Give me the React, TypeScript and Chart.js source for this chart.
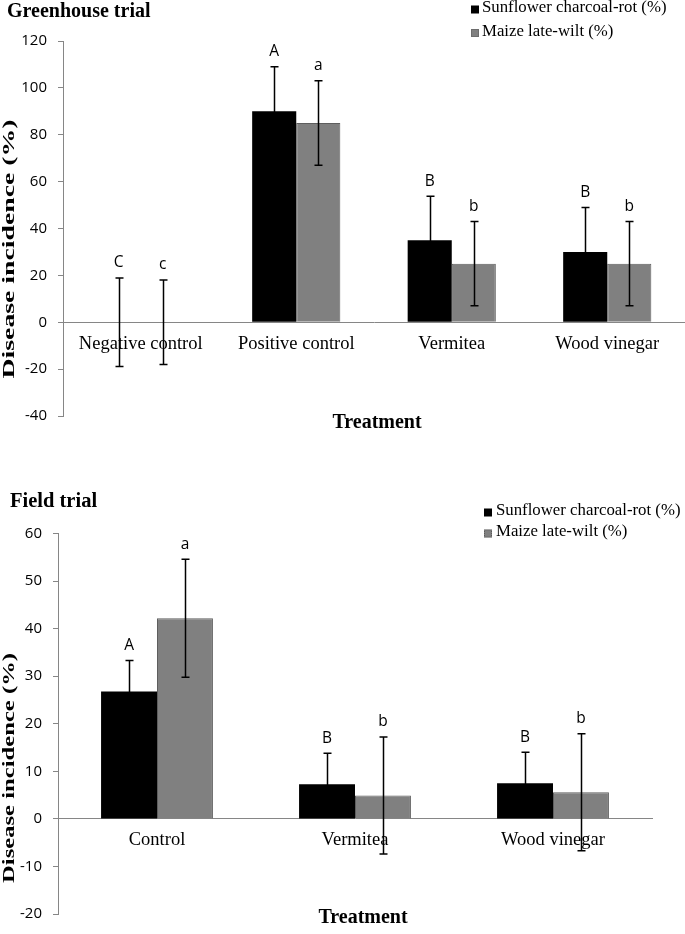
import React, { useEffect, useRef } from "react";
import { Chart, registerables } from "chart.js";

Chart.register(...registerables);

// ---------------- Data ----------------
const SERIES_LABELS = ["Sunflower charcoal-rot (%)", "Maize late-wilt (%)"];

// Greenhouse trial
const GH_CATEGORIES = ["Negative control", "Positive control", "Vermitea", "Wood vinegar"];
const GH_SUNFLOWER = [0, 90, 35, 30];
const GH_SUNFLOWER_ERR = [18.9, 19, 18.8, 19];
const GH_MAIZE = [0, 85, 25, 25];
const GH_MAIZE_ERR = [18, 18, 18, 18];
const GH_SUNFLOWER_LETTERS = ["C", "A", "B", "B"];
const GH_MAIZE_LETTERS = ["c", "a", "b", "b"];
const GH_Y_MIN = -40;
const GH_Y_MAX = 120;
const GH_Y_STEP = 20;

// Field trial
const FIELD_CATEGORIES = ["Control", "Vermitea", "Wood vinegar"];
const FIELD_SUNFLOWER = [26.8, 7.3, 7.5];
const FIELD_SUNFLOWER_ERR = [6.5, 6.5, 6.5];
const FIELD_MAIZE = [42.2, 4.9, 5.6];
const FIELD_MAIZE_ERR = [12.4, 12.3, 12.3];
const FIELD_SUNFLOWER_LETTERS = ["A", "B", "B"];
const FIELD_MAIZE_LETTERS = ["a", "b", "b"];
const FIELD_Y_MIN = -20;
const FIELD_Y_MAX = 60;
const FIELD_Y_STEP = 10;

const Y_TITLE = "Disease incidence (%)";
const X_TITLE = "Treatment";

// ---------------- Styles ----------------
const SERIF = '"Liberation Serif", "Times New Roman", serif';
const SANS = '"Open Sans", "Liberation Sans", sans-serif';
const AXIS_GRAY = "#868686";
const BLACK = "#000000";
const GRAY = "#808080";

type PanelCfg = {
  title: string;
  categories: string[];
  sunflower: number[];
  maize: number[];
  errs: number[][];
  letters: string[][];
  yMin: number;
  yMax: number;
  yStep: number;
  height: number;
  top: number;
  padding: { top: number; bottom: number; left: number; right: number };
  axisWidth: number;
  catPct: number;
  titleX: number;
  titleY: number;
  titleSize: number;
  legendX: number;
  legendTextX: number;
  legendY: number[];
  yTitleX: number;
  yTitleY: number;
  yTitleLen: number;
  xTitleX: number;
  xTitleY: number;
};

const PANELS: PanelCfg[] = [
  {
    title: "Greenhouse trial",
    categories: GH_CATEGORIES,
    sunflower: GH_SUNFLOWER,
    maize: GH_MAIZE,
    errs: [GH_SUNFLOWER_ERR, GH_MAIZE_ERR],
    letters: [GH_SUNFLOWER_LETTERS, GH_MAIZE_LETTERS],
    yMin: GH_Y_MIN,
    yMax: GH_Y_MAX,
    yStep: GH_Y_STEP,
    height: 470,
    top: 0,
    padding: { top: 41, bottom: 54, left: 0, right: 0 },
    axisWidth: 63,
    catPct: 0.567,
    titleX: 7,
    titleY: 12,
    titleSize: 20,
    legendX: 471,
    legendTextX: 482,
    legendY: [8, 31.5],
    yTitleX: 10,
    yTitleY: 249,
    yTitleLen: 259,
    xTitleX: 377,
    xTitleY: 423,
  },
  {
    title: "Field trial",
    categories: FIELD_CATEGORIES,
    sunflower: FIELD_SUNFLOWER,
    maize: FIELD_MAIZE,
    errs: [FIELD_SUNFLOWER_ERR, FIELD_MAIZE_ERR],
    letters: [FIELD_SUNFLOWER_LETTERS, FIELD_MAIZE_LETTERS],
    yMin: FIELD_Y_MIN,
    yMax: FIELD_Y_MAX,
    yStep: FIELD_Y_STEP,
    height: 464,
    top: 470,
    padding: { top: 63.5, bottom: 6, left: 0, right: 33 },
    axisWidth: 58,
    catPct: 0.565,
    titleX: 10,
    titleY: 32,
    titleSize: 20.5,
    legendX: 484,
    legendTextX: 496,
    legendY: [41, 62],
    yTitleX: 10,
    yTitleY: 298,
    yTitleLen: 230,
    xTitleX: 363,
    xTitleY: 447.5,
  },
];

function makeOverlay(cfg: PanelCfg) {
  return {
    id: "overlay",
    afterDatasetsDraw(chart: any) {
      const ctx: CanvasRenderingContext2D = chart.ctx;
      const yScale = chart.scales.y;
      ctx.save();
      cfg.errs.forEach((errs, di) => {
        const meta = chart.getDatasetMeta(di);
        const vals = chart.data.datasets[di].data as number[];
        meta.data.forEach((bar: any, i: number) => {
          const v = vals[i];
          const e = errs[i];
          const x = Math.round(bar.x) + 0.5;
          const yt = yScale.getPixelForValue(v + e);
          const yb = yScale.getPixelForValue(v - e);
          ctx.strokeStyle = BLACK;
          ctx.lineWidth = 1.5;
          ctx.beginPath();
          ctx.moveTo(x, yt);
          ctx.lineTo(x, yb);
          ctx.moveTo(x - 4, yt);
          ctx.lineTo(x + 4, yt);
          ctx.moveTo(x - 4, yb);
          ctx.lineTo(x + 4, yb);
          ctx.stroke();
          ctx.fillStyle = BLACK;
          ctx.font = `15.5px ${SANS}`;
          ctx.textAlign = "center";
          ctx.textBaseline = "middle";
          ctx.fillText(cfg.letters[di][i], bar.x, yt - 15);
        });
      });
      ctx.restore();
    },
    afterDraw(chart: any) {
      const ctx: CanvasRenderingContext2D = chart.ctx;
      ctx.save();
      // Panel title
      ctx.fillStyle = BLACK;
      ctx.font = `bold ${cfg.titleSize}px ${SERIF}`;
      ctx.textAlign = "left";
      ctx.textBaseline = "middle";
      ctx.fillText(cfg.title, cfg.titleX, cfg.titleY);

      // Legend
      ctx.font = `16.8px ${SERIF}`;
      chart.data.datasets.forEach((ds: any, i: number) => {
        const ry = cfg.legendY[i];
        ctx.fillStyle = ds.backgroundColor;
        ctx.fillRect(cfg.legendX, ry - 2.5, 8, 8);
        if (i === 1) {
          ctx.strokeStyle = "#5a5a5a";
          ctx.lineWidth = 1;
          ctx.setLineDash([1, 1]);
          ctx.strokeRect(cfg.legendX + 0.5, ry - 2, 7, 7);
          ctx.setLineDash([]);
        }
        ctx.fillStyle = BLACK;
        ctx.fillText(ds.label, cfg.legendTextX, ry);
      });

      // Y axis title (rotated, stretched like the original)
      ctx.save();
      ctx.translate(cfg.yTitleX, cfg.yTitleY);
      ctx.rotate(-Math.PI / 2);
      ctx.font = `bold 17px ${SERIF}`;
      const w = ctx.measureText(Y_TITLE).width;
      ctx.scale(cfg.yTitleLen / w, 1);
      ctx.textAlign = "center";
      ctx.textBaseline = "middle";
      ctx.fillText(Y_TITLE, 0, 0);
      ctx.restore();

      // X axis title
      ctx.font = `bold 20px ${SERIF}`;
      ctx.textAlign = "center";
      ctx.textBaseline = "middle";
      ctx.fillStyle = BLACK;
      ctx.fillText(X_TITLE, cfg.xTitleX, cfg.xTitleY);
      ctx.restore();
    },
  };
}

function Panel({ cfg }: { cfg: PanelCfg }) {
  const ref = useRef<HTMLCanvasElement>(null);
  useEffect(() => {
    if (!ref.current) return;
    const chart = new Chart(ref.current, {
      type: "bar",
      data: {
        labels: cfg.categories,
        datasets: [
          {
            label: SERIES_LABELS[0],
            data: cfg.sunflower,
            backgroundColor: BLACK,
            borderWidth: 0,
            categoryPercentage: cfg.catPct,
            barPercentage: 1,
          },
          {
            label: SERIES_LABELS[1],
            data: cfg.maize,
            backgroundColor: GRAY,
            borderColor: "#5e5e5e",
            borderWidth: cfg.maize.map((v) => (v === 0 ? 0 : 1)),
            borderSkipped: "start",
            categoryPercentage: cfg.catPct,
            barPercentage: 1,
          },
        ],
      },
      options: {
        responsive: false,
        animation: false,
        devicePixelRatio: 1,
        layout: { padding: cfg.padding },
        plugins: {
          legend: { display: false },
          title: { display: false },
          tooltip: { enabled: false },
        },
        scales: {
          x: {
            type: "category",
            position: { y: 0 } as any,
            offset: true,
            grid: { display: false, drawTicks: false },
            border: { display: true, color: AXIS_GRAY, width: 1 },
            ticks: {
              color: BLACK,
              font: { family: SERIF, size: 18.5 },
              padding: 10.5,
              maxRotation: 0,
              autoSkip: false,
            },
          },
          y: {
            type: "linear",
            position: "left",
            min: cfg.yMin,
            max: cfg.yMax,
            grid: {
              display: true,
              drawOnChartArea: false,
              drawTicks: true,
              tickLength: 5,
              color: AXIS_GRAY,
            },
            border: { display: true, color: AXIS_GRAY, width: 1 },
            ticks: {
              stepSize: cfg.yStep,
              color: BLACK,
              font: { family: SANS, size: 15 },
              padding: 11,
            },
            afterFit: (s: any) => {
              s.width = cfg.axisWidth;
            },
          },
        },
      },
      plugins: [makeOverlay(cfg)],
    } as any);
    return () => chart.destroy();
  }, [cfg]);
  return (
    <canvas
      ref={ref}
      width={685}
      height={cfg.height}
      style={{ position: "absolute", left: 0, top: cfg.top, width: 685, height: cfg.height }}
    />
  );
}

export default function App() {
  return (
    <div
      style={{
        position: "fixed",
        left: 0,
        top: 0,
        width: 685,
        height: 934,
        background: "#ffffff",
        overflow: "hidden",
      }}
    >
      {PANELS.map((p, i) => (
        <Panel key={i} cfg={p} />
      ))}
    </div>
  );
}
